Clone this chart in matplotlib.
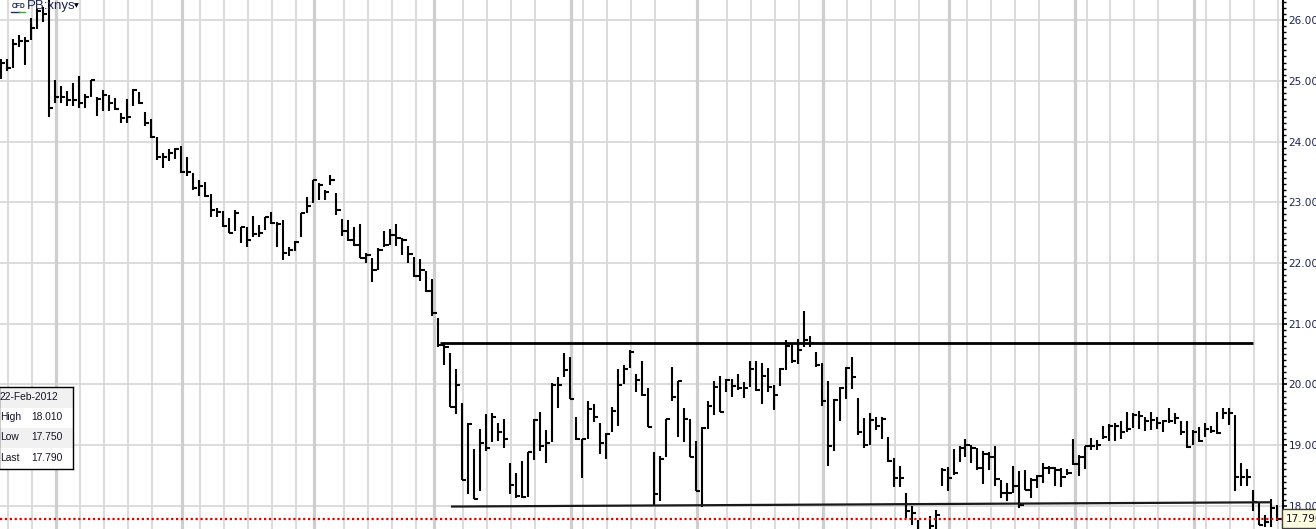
import numpy as np
import matplotlib.pyplot as plt
from matplotlib import transforms
from matplotlib.ticker import MultipleLocator, FixedLocator

plt.rcParams['font.family'] = ['Liberation Sans', 'DejaVu Sans']

# Дневные бары PB:xnys: максимум, минимум, закрытие
highs = [25.36, 25.36, 25.69, 25.75, 25.72, 26.03, 26.19, 26.22, 26.36, 25.01,
         24.91, 24.83, 24.96, 25.08, 24.78, 25.02, 24.74, 24.84, 24.77, 24.72,
         24.47, 24.70, 24.86, 24.82, 24.49, 24.37, 24.08, 23.81, 23.87, 23.90,
         23.93, 23.75, 23.48, 23.37, 23.34, 23.13, 22.90, 22.86, 22.74, 22.88,
         22.60, 22.60, 22.77, 22.63, 22.76, 22.84, 22.68, 22.70, 22.26, 22.37,
         22.83, 23.09, 23.37, 23.31, 23.20, 23.45, 23.15, 22.72, 22.71, 22.60,
         22.64, 22.16, 22.08, 22.24, 22.52, 22.56, 22.64, 22.41, 22.28, 22.10,
         22.06, 21.86, 21.73,
         21.09, 20.69, 20.52, 20.25, 19.69, 19.36, 18.93, 19.26, 19.51, 19.53,
         19.36, 19.43, 18.70, 18.54, 18.74, 18.88, 19.43, 19.54, 19.25, 20.03,
         20.12, 20.51, 20.45, 19.47, 19.11, 19.72, 19.67, 19.36, 19.20, 19.63,
         20.25, 20.32, 20.57, 20.18, 20.39, 19.94, 18.89, 18.82, 19.43, 20.28,
         20.06, 19.61, 19.43, 19.07, 19.30, 19.73, 20.06,
         20.14, 20.09, 20.09, 20.18, 20.04, 20.39, 20.39, 20.35, 20.27, 19.99,
         20.27, 20.73, 20.68, 20.75, 21.21, 20.80, 20.53, 20.36, 20.06, 19.76,
         19.95, 20.28, 20.45, 19.77, 19.44, 19.53, 19.46, 19.47, 19.14, 18.79,
         18.65, 18.22, 18.00, 17.77, 17.58, 17.84, 17.93, 18.62, 18.64, 18.93,
         18.99, 19.10, 19.00, 18.95, 18.91, 18.89, 18.99,
         18.42, 18.37, 18.65, 18.58, 18.59, 18.46, 18.51, 18.70, 18.66, 18.64,
         18.62, 18.60, 19.10, 18.84, 18.98, 19.12, 19.09, 19.31, 19.35, 19.37,
         19.39, 19.55, 19.53, 19.57, 19.47, 19.55, 19.47, 19.42, 19.62, 19.53,
         19.39, 19.39, 19.25, 19.30, 19.36, 19.32, 19.54, 19.61, 19.61, 19.50,
         18.70, 18.60, 18.26, 18.07, 17.85, 18.11, 18.01]

lows = [25.03, 25.16, 25.21, 25.55, 25.26, 25.67, 25.86, 25.97, 24.40, 24.63,
        24.64, 24.58, 24.58, 24.55, 24.56, 24.73, 24.42, 24.50, 24.50, 24.52,
        24.30, 24.31, 24.58, 24.62, 24.25, 24.05, 23.70, 23.56, 23.68, 23.71,
        23.48, 23.43, 23.20, 23.10, 23.09, 22.75, 22.75, 22.60, 22.49, 22.52,
        22.33, 22.26, 22.43, 22.42, 22.54, 22.65, 22.27, 22.05, 22.12, 22.19,
        22.43, 22.82, 22.99, 23.03, 23.04, 23.28, 22.79, 22.44, 22.37, 22.28,
        22.08, 22.00, 21.68, 21.88, 22.26, 22.30, 22.28, 22.13, 22.00, 21.77,
        21.71, 21.53, 21.12,
        20.62, 20.32, 19.63, 19.51, 18.42, 18.19, 18.11, 18.25, 18.91, 19.06,
        19.07, 18.95, 18.19, 18.13, 18.13, 18.15, 18.76, 18.91, 18.71, 19.05,
        19.62, 20.12, 19.76, 19.09, 18.46, 19.11, 19.38, 18.85, 18.77, 19.22,
        19.31, 20.00, 20.27, 19.87, 19.81, 19.30, 18.02, 18.08, 18.80, 19.73,
        19.14, 19.05, 18.80, 18.24, 17.98, 19.26, 19.49,
        19.54, 19.87, 19.80, 19.91, 19.77, 19.95, 19.89, 19.67, 19.87, 19.58,
        19.98, 20.23, 20.35, 20.33, 20.61, 20.61, 20.28, 19.65, 18.65, 18.91,
        19.39, 19.76, 19.93, 19.16, 18.95, 19.00, 19.25, 19.11, 18.73, 18.31,
        18.31, 17.80, 17.68, 17.50, 17.40, 17.55, 17.60, 18.32, 18.24, 18.51,
        18.73, 18.80, 18.71, 18.59, 18.36, 18.59, 18.33,
        18.13, 18.08, 18.21, 17.96, 18.26, 18.13, 18.29, 18.37, 18.53, 18.32,
        18.31, 18.51, 18.67, 18.50, 18.60, 18.92, 18.92, 19.10, 19.07, 19.07,
        19.10, 19.22, 19.28, 19.26, 19.23, 19.25, 19.26, 19.21, 19.36, 19.35,
        19.17, 18.95, 19.00, 19.06, 19.14, 19.20, 19.18, 19.43, 19.33, 18.25,
        18.32, 18.32, 17.91, 17.69, 17.66, 17.66, 17.75]

closes = [25.30, 25.21, 25.60, 25.65, 25.65, 25.87, 26.15, 26.10, 24.55, 24.73,
          24.73, 24.68, 24.68, 24.63, 24.74, 25.01, 24.70, 24.77, 24.63, 24.53,
          24.38, 24.40, 24.84, 24.63, 24.30, 24.08, 23.75, 23.75, 23.81, 23.87,
          23.50, 23.50, 23.23, 23.26, 23.10, 22.87, 22.84, 22.61, 22.50, 22.82,
          22.59, 22.38, 22.48, 22.50, 22.75, 22.66, 22.65, 22.16, 22.21, 22.35,
          22.82, 22.93, 23.36, 23.28, 23.17, 23.36, 22.88, 22.53, 22.38, 22.30,
          22.09, 22.13, 21.88, 22.21, 22.30, 22.46, 22.41, 22.38, 22.15, 21.79,
          21.88, 21.54, 21.17,
          20.65, 20.62, 19.63, 19.99, 18.42, 19.35, 18.11, 19.04, 18.96, 19.46,
          19.22, 19.10, 18.35, 18.16, 18.14, 18.88, 19.42, 18.99, 19.03, 19.99,
          19.99, 20.24, 19.76, 19.11, 19.10, 19.59, 19.46, 19.04, 19.19, 19.57,
          19.99, 20.25, 20.54, 20.07, 19.83, 19.30, 18.20, 18.77, 19.43, 19.80,
          20.06, 19.43, 18.80, 18.25, 19.28, 19.65, 19.96,
          19.54, 20.07, 19.98, 19.94, 19.94, 20.25, 19.91, 20.14, 19.96, 19.83,
          20.26, 20.63, 20.39, 20.57, 20.74, 20.69, 20.32, 19.72, 18.99, 19.74,
          19.94, 20.27, 20.12, 19.21, 19.00, 19.42, 19.31, 19.43, 18.74, 18.46,
          18.46, 17.92, 17.88, 17.58, 17.50, 17.67, 17.85, 18.59, 18.46, 18.54,
          18.95, 19.00, 18.95, 18.62, 18.86, 18.80, 18.44,
          18.22, 18.21, 18.32, 18.02, 18.27, 18.43, 18.49, 18.62, 18.62, 18.59,
          18.47, 18.54, 18.69, 18.80, 18.98, 18.99, 19.00, 19.14, 19.31, 19.32,
          19.22, 19.26, 19.50, 19.48, 19.40, 19.42, 19.36, 19.39, 19.39, 19.44,
          19.21, 18.97, 19.22, 19.07, 19.26, 19.23, 19.20, 19.53, 19.53, 18.48,
          18.48, 18.48, 18.07, 17.69, 17.74, 17.96, 17.79]

# Сетка: недельные и месячные линии (номера баров)
week_lines = [1, 5, 13, 17, 21, 25, 33, 37, 41, 45, 49, 57, 61, 65, 69, 77, 81,
              85, 89, 97, 101, 105, 109, 121, 125, 129, 133, 141, 145, 149, 153,
              161, 165, 169, 173, 181, 185, 189, 193, 201, 205, 209, 213]
month_lines = [9, 30, 52, 72, 95, 116, 137, 158, 179, 199]
price_levels = [18, 19, 20, 21, 22, 23, 24, 25, 26]

# Нарисованные уровни: сопротивление и поддержка (бар, цена)
resist_level = 20.68
resist_bars = [73.3, 209.0]
support_bars = [75.3, 211.9]
support_prices = [17.99, 18.06]

symbol = "PB:xnys"
last_date = "22-Feb-2012"
info_names = ["High", "Low", "Last"]
info_values = ["18.010", "17.750", "17.790"]
last_price = 17.79

NAVY = "#1c2452"
AXIS_FONT = ["DejaVu Sans"]


# Бары максимум-минимум с засечкой закрытия справа
def draw_bars(ax):
    x = np.arange(len(highs))
    ax.vlines(x, lows, highs, color="black", linewidth=1.5, zorder=3)
    ax.hlines(closes, x, x + 0.7, color="black", linewidth=1.5, zorder=3)


def draw_grid(ax):
    for lvl in price_levels:
        ax.axhline(lvl, color="#d6d6d6", linewidth=1.2, zorder=0)
    for b in week_lines:
        ax.axvline(b + 0.2, color="#d8d8d8", linewidth=1.3, zorder=0)
    for b in month_lines:
        ax.axvline(b + 0.2, color="#cecece", linewidth=2.3, zorder=0)


# Окно с данными последнего бара
def draw_info_box(fig):
    W, H = 1316.0, 529.0
    box = fig.add_axes([-1 / W, (H - 468.5) / H, 74 / W, 81.5 / H])
    box.set_xlim(0, 74)
    box.set_ylim(468.5, 387)
    box.set_xticks([])
    box.set_yticks([])
    for s in box.spines.values():
        s.set_linewidth(1.0)
        s.set_color("black")
    rows = [last_date] + info_names
    tops = [387, 407.5, 427.5, 447.5, 468.5]
    for i in range(len(rows)):
        if i % 2 == 0:
            box.axhspan(tops[i], tops[i + 1], color="#f1f1f1", linewidth=0)
        yc = (tops[i] + tops[i + 1]) / 2
        box.text(1, yc, rows[i], fontsize=7.4, color="#141428", va="center", ha="left")
        if i > 0:
            box.text(32, yc, info_values[i - 1], fontsize=7.4, color="#141428",
                     va="center", ha="left")


def main():
    fig = plt.figure(figsize=(13.16, 5.29), dpi=100)
    ax = fig.add_axes([0, 0, 1283 / 1316, 1])

    draw_grid(ax)
    draw_bars(ax)

    ax.hlines(resist_level, resist_bars[0], resist_bars[1], color="black",
              linewidth=2.0, zorder=4)
    ax.plot(support_bars, support_prices, color="#1a1a1a", linewidth=1.6, zorder=4)
    ax.axhline(last_price, color="#e00000", linewidth=1.6, linestyle=(0, (1, 1.2)), zorder=5)

    ax.set_xlim(-0.17, 214.0)
    ax.set_ylim(17.62, 26.33)

    # Правая шкала цен
    for side in ["left", "top", "bottom"]:
        ax.spines[side].set_visible(False)
    ax.spines["right"].set_linewidth(1.5)
    ax.yaxis.tick_right()
    ax.set_xticks([])
    ax.yaxis.set_major_locator(FixedLocator(price_levels))
    ax.set_yticklabels([f"{v:.2f}" for v in price_levels], family=AXIS_FONT)
    ax.yaxis.set_minor_locator(MultipleLocator(0.1))
    ax.tick_params(axis="y", which="major", length=3, width=1.2, pad=1,
                   labelsize=7.6, labelcolor=NAVY)
    ax.tick_params(axis="y", which="minor", length=2, width=1.0)

    trans = transforms.blended_transform_factory(ax.transAxes, ax.transData)
    ax.text(1.0025, last_price, f"{last_price:.3f}", transform=trans, fontsize=7.6,
            family=AXIS_FONT, color="#141428", ha="left", va="center",
            clip_on=False, zorder=10,
            bbox=dict(boxstyle="square,pad=0.4", fc="#ffffe1", ec="#404040", lw=1.0))

    # Подпись инструмента в левом верхнем углу
    fig.text(11.5 / 1316, 1 - 7.5 / 529, "CFD", fontsize=4.8, color=NAVY,
             fontweight="bold", va="baseline")
    fig.add_artist(plt.Line2D([11 / 1316, 18.5 / 1316], [1 - 12 / 529] * 2,
                              color="#1c2d6e", linewidth=1.0))
    fig.add_artist(plt.Line2D([18.5 / 1316, 25 / 1316], [1 - 12 / 529] * 2,
                              color="#3aaa35", linewidth=1.0))
    fig.text(27 / 1316, 1 - 9.5 / 529, symbol, fontsize=9.5, color=NAVY, va="baseline")
    fig.text(73.5 / 1316, 1 - 7 / 529, "▼", fontsize=4.5, color="black",
             va="baseline", family=["DejaVu Sans"])

    draw_info_box(fig)

    fig.savefig("out.png", dpi=100)


if __name__ == "__main__":
    main()
